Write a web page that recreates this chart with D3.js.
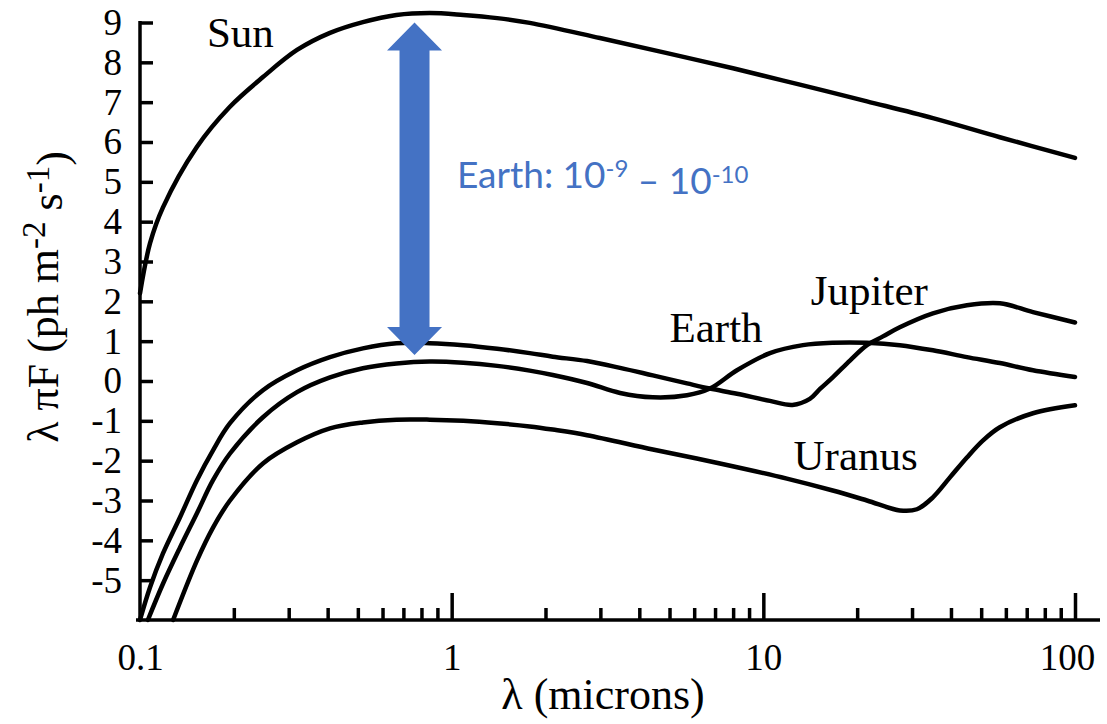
<!DOCTYPE html>
<meta charset="utf-8">
<style>
  body { margin: 0; background: #fff; }
  svg { display: block; }
  .serif { font-family: "Liberation Serif", "Times New Roman", serif; fill: #000; }
  .axis path, .axis line { stroke: #000; stroke-width: 3.5; }
  .axis text { font-family: "Liberation Serif", "Times New Roman", serif; font-size: 37px; fill: #000; }
  .curve { fill: none; stroke: #000; stroke-width: 4.5; stroke-linejoin: round; stroke-linecap: round; }
</style>
<svg width="1107" height="724"></svg>
<script src="https://cdnjs.cloudflare.com/ajax/libs/d3/7.8.5/d3.min.js"></script>
<script>

// values: wavelength (microns) and log10 of lambda*pi*F
var sunLambda = [0.1, 0.1077, 0.1185, 0.152, 0.194, 0.248, 0.319, 0.407, 0.519, 0.665, 0.85, 1.09, 1.40, 1.78, 2.99, 4.91, 7.99, 13.1, 21.5, 35.0, 57.4, 100];
var sunFlux   = [2.2, 3.46, 4.36, 5.87, 6.88, 7.63, 8.31, 8.74, 9.01, 9.19, 9.24, 9.19, 9.11, 8.99, 8.61, 8.23, 7.85, 7.44, 7.02, 6.60, 6.12, 5.60];

var jupiterLambda = [0.1, 0.1077, 0.1185, 0.1344, 0.1523, 0.1715, 0.1944, 0.248, 0.319, 0.407, 0.519, 0.665, 0.85, 1.09, 1.40, 1.78, 2.11, 2.72, 3.47, 4.42, 5.69, 6.74, 8.23, 10.5, 12.4, 14.1, 15.2, 16.7, 19.0, 21.5, 24.2, 27.4, 35.0, 45.0, 57.4, 73.3, 100];
var jupiterFlux   = [-6, -5.18, -4.33, -3.42, -2.49, -1.74, -1.06, -0.23, 0.27, 0.60, 0.82, 0.95, 0.95, 0.90, 0.81, 0.70, 0.61, 0.50, 0.33, 0.14, -0.06, -0.19, -0.32, -0.50, -0.60, -0.45, -0.20, 0.09, 0.52, 0.90, 1.12, 1.35, 1.70, 1.90, 1.95, 1.73, 1.47];

var earthLambda = [0.106, 0.1185, 0.1344, 0.1523, 0.1715, 0.1944, 0.248, 0.319, 0.407, 0.519, 0.665, 0.85, 1.09, 1.40, 1.78, 2.11, 2.72, 3.47, 4.42, 5.69, 6.74, 8.23, 10.5, 13.4, 16.7, 21.5, 27.4, 35.0, 45.0, 57.4, 73.3, 100];
var earthFlux   = [-6, -5.09, -4.18, -3.32, -2.49, -1.82, -0.91, -0.28, 0.09, 0.32, 0.44, 0.49, 0.46, 0.38, 0.26, 0.15, -0.05, -0.30, -0.41, -0.36, -0.19, 0.27, 0.70, 0.90, 0.96, 0.96, 0.90, 0.77, 0.60, 0.45, 0.27, 0.10];

var uranusLambda = [0.1277, 0.1523, 0.1715, 0.1944, 0.248, 0.319, 0.407, 0.519, 0.665, 0.85, 1.09, 1.40, 1.78, 2.11, 2.72, 4.42, 7.26, 11.9, 16.7, 21.5, 27.4, 31.1, 35.0, 39.7, 45.0, 50.7, 57.4, 73.3, 100];
var uranusFlux   = [-6, -4.51, -3.68, -3.0, -2.07, -1.54, -1.19, -1.04, -0.97, -0.97, -1.0, -1.06, -1.14, -1.22, -1.36, -1.72, -2.07, -2.45, -2.75, -3.0, -3.25, -3.22, -2.92, -2.42, -1.92, -1.49, -1.16, -0.81, -0.61];

var xMajorTicks = [0.1, 1, 10, 100];
var xTickLabels = ["0.1", "1", "10", "100"];
var yTicks = [-5, -4, -3, -2, -1, 0, 1, 2, 3, 4, 5, 6, 7, 8, 9];

// blue arrow annotation (lambda, top, bottom)
var arrowLambda = 0.76, arrowTop = 9.0, arrowBottom = 0.65;

var svg = d3.select("svg");

var x = d3.scaleLog().domain([0.1, 100]).range([140, 1075]);
var y = d3.scaleLinear().domain([-6, 9]).range([620, 22.5]);

// x axis: minor ticks
svg.append("g")
    .attr("class", "axis")
    .attr("transform", "translate(0," + y(-6) + ")")
    .call(d3.axisBottom(x)
      .tickValues(x.ticks().filter(d => xMajorTicks.indexOf(d) < 0))
      .tickSizeInner(-12).tickSizeOuter(0).tickFormat(""))
    .select(".domain").remove();

// x axis: major ticks + labels
var xAxis = svg.append("g")
    .attr("class", "axis")
    .attr("transform", "translate(0," + y(-6) + ")")
    .call(d3.axisBottom(x)
      .tickValues(xMajorTicks)
      .tickSizeInner(-27).tickSizeOuter(0).tickPadding(24)
      .tickFormat((d, i) => xTickLabels[i]));
xAxis.select(".domain").remove();
xAxis.selectAll(".tick").filter(d => d === 0.1).select("line").remove();
xAxis.selectAll(".tick").filter(d => d === 100).select("text").attr("dx", "-8");

// y axis
var yAxis = svg.append("g")
    .attr("class", "axis")
    .attr("transform", "translate(" + x(0.1) + ",0)")
    .call(d3.axisLeft(y)
      .tickValues(yTicks)
      .tickSizeInner(-13).tickSizeOuter(0).tickPadding(18)
      .tickFormat(d3.format("d")));
yAxis.select(".domain").remove();
yAxis.selectAll("text").text(d => d < 0 ? "-" + Math.abs(d) : d);

// axis frame lines
svg.append("line")
    .attr("x1", x(0.1) - 4).attr("x2", x(100) + 25)
    .attr("y1", y(-6)).attr("y2", y(-6))
    .attr("stroke", "#000").attr("stroke-width", 3.5);
svg.append("line")
    .attr("x1", x(0.1)).attr("x2", x(0.1))
    .attr("y1", y(-6)).attr("y2", y(9) - 1.5)
    .attr("stroke", "#000").attr("stroke-width", 3.5);

// curves
var line = d3.line()
    .x(d => x(d[0]))
    .y(d => y(d[1]))
    .curve(d3.curveCatmullRom.alpha(0.5));

[[sunLambda, sunFlux], [jupiterLambda, jupiterFlux], [earthLambda, earthFlux], [uranusLambda, uranusFlux]]
  .forEach(function(s) {
    svg.append("path")
        .attr("class", "curve")
        .attr("d", line(d3.zip(s[0], s[1])));
  });

// curve labels
var labels = [
  {text: "Sun", l: 0.164, v: 8.38},
  {text: "Earth", l: 5.0, v: 0.97},
  {text: "Jupiter", l: 14.2, v: 1.90},
  {text: "Uranus", l: 12.5, v: -2.24}
];
svg.selectAll(".lbl").data(labels).enter().append("text")
    .attr("class", "serif lbl")
    .attr("x", d => x(d.l))
    .attr("y", d => y(d.v))
    .attr("font-size", 43)
    .text(d => d.text);

// axis titles
svg.append("text")
    .attr("class", "serif")
    .attr("x", 603)
    .attr("y", 709)
    .attr("text-anchor", "middle")
    .attr("font-size", 44)
    .text("λ (microns)");

var yt = svg.append("text")
    .attr("class", "serif")
    .attr("transform", "translate(58,297) rotate(-90)")
    .attr("text-anchor", "middle")
    .attr("font-size", 44);
yt.append("tspan").text("λ πF (ph m");
yt.append("tspan").attr("dy", "-0.4em").attr("font-size", 33).text("-2");
yt.append("tspan").attr("dy", "0.4em").text(" s");
yt.append("tspan").attr("dy", "-0.4em").attr("font-size", 33).text("-1");
yt.append("tspan").attr("dy", "0.4em").text(")");

// blue double arrow
var cx = x(arrowLambda), yT = y(arrowTop), yB = y(arrowBottom);
var headLen = 28, headHalf = 27.5, shaftHalf = 15;
svg.append("path")
    .attr("fill", "#4472C4")
    .attr("d", d3.line()([
      [cx, yT], [cx + headHalf, yT + headLen], [cx + shaftHalf, yT + headLen],
      [cx + shaftHalf, yB - headLen], [cx + headHalf, yB - headLen], [cx, yB],
      [cx - headHalf, yB - headLen], [cx - shaftHalf, yB - headLen],
      [cx - shaftHalf, yT + headLen], [cx - headHalf, yT + headLen]
    ]) + "Z");

var bt = svg.append("text")
    .attr("x", x(1.04))
    .attr("y", y(4.84))
    .attr("fill", "#4472C4")
    .attr("font-family", "Lato, 'Open Sans', sans-serif")
    .attr("font-size", 37);
bt.append("tspan").text("Earth: 10");
bt.append("tspan").attr("dy", "-0.45em").attr("font-size", 24).text("-9");
bt.append("tspan").attr("dy", "0.45em").text(" – 10");
bt.append("tspan").attr("dy", "-0.45em").attr("font-size", 24).text("-10");

</script>
